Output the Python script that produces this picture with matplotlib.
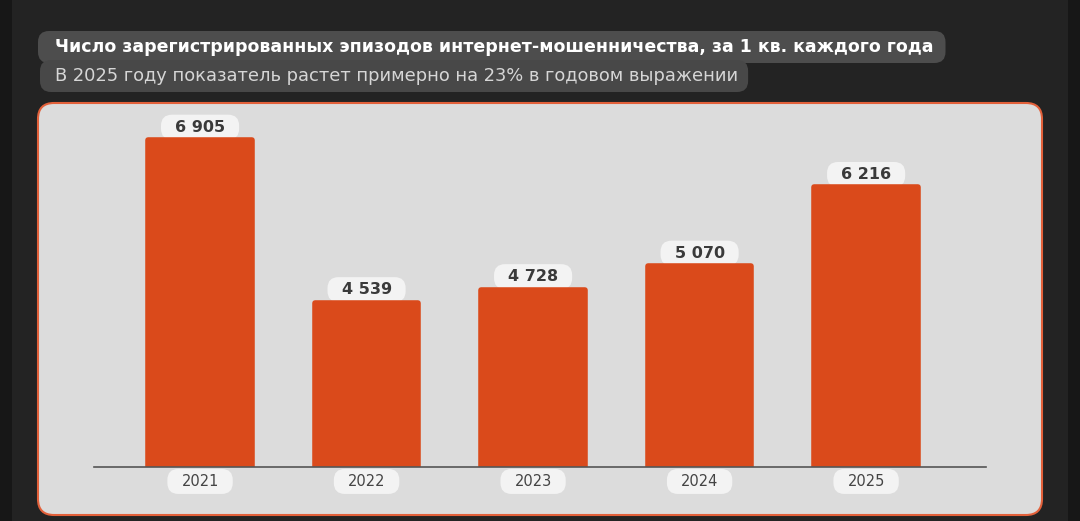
import matplotlib
matplotlib.use("Agg")
import matplotlib.pyplot as plt
from matplotlib.patches import FancyBboxPatch, Rectangle

plt.rcParams["font.family"] = ["DejaVu Sans"]

# данные
years = ["2021", "2022", "2023", "2024", "2025"]
episodes = [6905, 4539, 4728, 5070, 6216]
value_labels = ["6 905", "4 539", "4 728", "5 070", "6 216"]

title = "Число зарегистрированных эпизодов интернет-мошенничества, за 1 кв. каждого года"
subtitle = "В 2025 году показатель растет примерно на 23% в годовом выражении"

BAR = "#da4a1b"
PANEL = "#dcdcdc"
PILL = "#f3f3f3"

W, H = 1080, 521
fig = plt.figure(figsize=(W / 100, H / 100), dpi=100)
fig.patch.set_facecolor("#232323")

# фон в пикселях (1 единица = 1 px, ось y вниз)
bg = fig.add_axes([0, 0, 1, 1])
bg.set_xlim(0, W)
bg.set_ylim(H, 0)
bg.axis("off")
bg.add_patch(Rectangle((0, 0), 12, H, color="#171717", lw=0))
bg.add_patch(Rectangle((1068, 0), 12, H, color="#171717", lw=0))
bg.add_patch(FancyBboxPatch((38, 103), 1004, 412,
                            boxstyle="round,pad=0,rounding_size=16",
                            fc=PANEL, ec="#e2603a", lw=1.5))

t_title = bg.text(55, 47, title, color="white", fontsize=12.5, fontweight="bold",
                  va="center", ha="left", zorder=3)
t_sub = bg.text(55, 76, subtitle, color="#d6d6d6", fontsize=12.9,
                va="center", ha="left", zorder=3)

# основная область графика
ax = fig.add_axes([94 / W, 1 - 467 / H, 892 / W, 347 / H])
ax.patch.set_alpha(0)
x = list(range(len(years)))
ax.bar(x, episodes, width=0.62, color=BAR, edgecolor=BAR, linewidth=4,
       joinstyle="round", zorder=2)
ax.set_xlim(-0.637, 4.72)
ax.set_ylim(2145, 7199)

value_texts = []
for xi, v, lab in zip(x, episodes, value_labels):
    t = ax.annotate(lab, (xi, v), xytext=(0, 13), textcoords="offset pixels",
                    ha="center", va="center", fontsize=11.5, fontweight="bold",
                    color="#3a3a3a", zorder=3)
    value_texts.append(t)

for s in ["top", "right", "left"]:
    ax.spines[s].set_visible(False)
ax.spines["bottom"].set_color("#555555")
ax.spines["bottom"].set_linewidth(1.2)
ax.spines["bottom"].set_zorder(4)
ax.set_yticks([])
ax.set_xticks(x)
ax.set_xticklabels(years, fontsize=10.5, color="#444444")
ax.tick_params(axis="x", length=0, pad=5)

# подложки-«таблетки» под тексты
fig.canvas.draw()
renderer = fig.canvas.get_renderer()


def pill(artist, hpad, vpad, color, r, x0=None):
    bb = artist.get_window_extent(renderer)
    left = bb.x0 - hpad if x0 is None else x0
    top = H - bb.y1 - vpad
    bg.add_patch(FancyBboxPatch((left, top), bb.x1 + hpad - left, bb.height + 2 * vpad,
                                boxstyle=f"round,pad=0,rounding_size={r}",
                                fc=color, ec="none", zorder=2))


pill(t_title, 12, 7, "#4d4d4d", 11, x0=38)
pill(t_sub, 10, 7, "#484848", 11, x0=40)
for t in value_texts:
    pill(t, 14, 5, PILL, 11)
for t in ax.get_xticklabels():
    pill(t, 14, 5, PILL, 11)

fig.savefig("out.png", dpi=100, facecolor=fig.get_facecolor())
